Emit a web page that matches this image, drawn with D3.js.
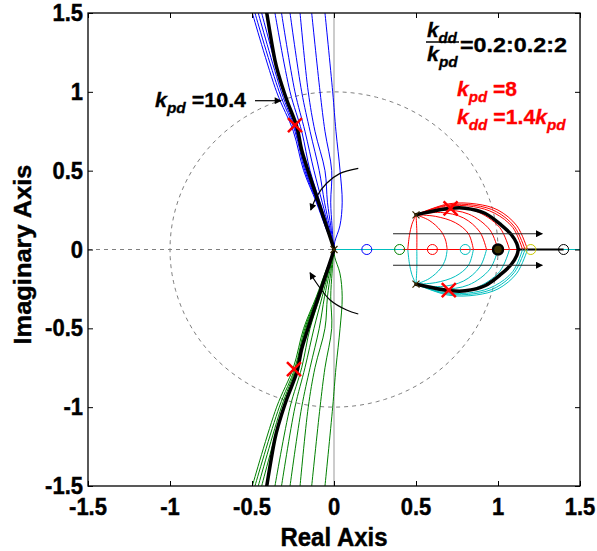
<!DOCTYPE html>
<html><head><meta charset="utf-8">
<script src="https://cdn.jsdelivr.net/npm/d3@7"></script>
<style>body{margin:0;background:#fff}svg{display:block}text{font-family:"Liberation Sans",Arial,sans-serif;font-weight:bold}</style>
</head><body><svg id="c" width="597" height="551"></svg>
<script>
// ---------- data ----------
const xTicks=[-1.5,-1,-0.5,0,0.5,1,1.5];
const xTickLabels=["-1.5","-1","-0.5","0","0.5","1","1.5"];
const yTicks=[-1.5,-1,-0.5,0,0.5,1,1.5];
const yTickLabels=["-1.5","-1","-0.5","0","0.5","1","1.5"];

// upper (blue) branch family from the double pole at origin; lower (green) = conjugate
const branchY=[0,0.05,0.15,0.3,0.5,0.75,1.0,1.5];
const blueBranchX=[
 [0,-0.016,-0.055,-0.108,-0.185,-0.248,-0.350,-0.498],
 [0,-0.016,-0.053,-0.104,-0.178,-0.238,-0.334,-0.482],
 [0,-0.015,-0.051,-0.100,-0.172,-0.232,-0.321,-0.462],
 [0,-0.015,-0.049,-0.097,-0.166,-0.226,-0.309,-0.441],
 [0,-0.013,-0.040,-0.085,-0.146,-0.197,-0.268,-0.360],
 [0,-0.012,-0.035,-0.072,-0.122,-0.177,-0.238,-0.320],
 [0,-0.010,-0.028,-0.058,-0.090,-0.146,-0.197,-0.268],
 [0,-0.008,-0.020,-0.040,-0.055,-0.116,-0.157,-0.207],
 [0,-0.005,-0.012,-0.020,-0.014,-0.055,-0.085,-0.136],
 [0, 0.005, 0.036, 0.050, 0.037, 0.012,-0.008,-0.055]
];
// highlighted branch (kdd = 1.4 kpd)
const blackBranchY=[0,0.029,0.145,0.271,0.398,0.525,0.631,0.779,0.948,1.117,1.2,1.5];
const blackBranchX=[0,-0.008,-0.045,-0.085,-0.126,-0.166,-0.197,-0.227,-0.288,-0.340,-0.36,-0.41];

// branches from the complex poles (0.5 ± 0.22j): upper red, lower cyan (conjugate)
const bulbCurves=[
 [[0.5,0.22],[0.475,0.16],[0.46,0.09],[0.45,0]],
 [[0.5,0.22],[0.505,0.12],[0.505,0]],
 [[0.5,0.22],[0.58,0.185],[0.65,0.12],[0.68,0.06],[0.69,0]],
 [[0.5,0.22],[0.62,0.21],[0.74,0.17],[0.82,0.1],[0.85,0]],
 [[0.5,0.22],[0.65,0.235],[0.79,0.2],[0.89,0.11],[0.93,0]],
 [[0.5,0.22],[0.66,0.25],[0.82,0.225],[0.95,0.125],[1.0,0]],
 [[0.5,0.22],[0.68,0.265],[0.86,0.245],[1.01,0.14],[1.07,0]],
 [[0.5,0.22],[0.68,0.275],[0.85,0.272],[0.98,0.23],[1.09,0.14],[1.15,0]],
 [[0.5,0.22],[0.69,0.282],[0.86,0.28],[0.99,0.24],[1.10,0.145],[1.165,0]],
 [[0.5,0.22],[0.70,0.29],[0.87,0.288],[1.00,0.25],[1.115,0.15],[1.18,0]]
];
const blackBulb=[[0.5,0.22],[0.71,0.261],[0.80,0.262],[0.92,0.23],[1.02,0.155],[1.083,0.092],[1.114,0.039],[1.124,0]];

// real-axis segments [x0,x1,colour,width]
const axisSegments=[[0,1.5,"#00bfbf",1],[0.42,1.12,"#ff0000",1],[1.12,1.4,"#000",2]];

// zeros (circles) and their colours
const zeroX=[0.2,0.4,0.6,0.8,1.0,1.2,1.4];
const zeroColor=["#0000ff","#008000","#ff0000","#00bfbf","#000","#c8c800","#000"];

// open-loop poles (small black x)
const poles=[[0,0],[0.5,0.22],[0.5,-0.22]];
// selected closed-loop poles (red X)
const selected=[[-0.238,0.789],[-0.244,-0.758],[0.711,0.261],[0.70,-0.257]];

// annotation arrows (data coordinates)
const hArrows=[[[0.36,0.1],[1.27,0.1]],[[0.36,-0.1],[1.27,-0.1]]];
const curvedArrows=[
 [[0.148,0.515],[0.037,0.483],[-0.045,0.42],[-0.106,0.335],[-0.142,0.25]],
 [[0.148,-0.409],[0.077,-0.384],[-0.024,-0.32],[-0.106,-0.214],[-0.146,-0.147]]
];

// ---------- drawing ----------
const svg=d3.select("#c");
const L=88,R=580,T=13,B=486;
const x=d3.scaleLinear().domain([-1.5,1.5]).range([L,R]);
const y=d3.scaleLinear().domain([-1.5,1.5]).range([B,T]);

const defs=svg.append("defs");
defs.append("clipPath").attr("id","clip").append("rect").attr("x",L).attr("y",T).attr("width",R-L).attr("height",B-T);
defs.append("marker").attr("id","ah").attr("viewBox","0 0 10 10").attr("refX",9).attr("refY",5)
 .attr("markerWidth",9).attr("markerHeight",7).attr("markerUnits","userSpaceOnUse").attr("orient","auto")
 .append("path").attr("d","M0,0L10,5L0,10z").attr("fill","#000");

const plot=svg.append("g").attr("clip-path","url(#clip)");
const line=d3.line().x(d=>x(d[0])).y(d=>y(d[1])).curve(d3.curveCatmullRom.alpha(0.5));
const lin=d3.line().x(d=>x(d[0])).y(d=>y(d[1]));

// unit circle and dashed axes
const circ=d3.range(0,361,3).map(a=>[Math.cos(a*Math.PI/180),Math.sin(a*Math.PI/180)]);
plot.append("path").attr("d",lin(circ)).attr("fill","none").attr("stroke","#808080").attr("stroke-dasharray","4,4");
plot.append("path").attr("d",lin([[-1.5,0],[0,0]])).attr("stroke","#808080").attr("stroke-dasharray","4,4");
plot.append("path").attr("d",lin([[0,-1.5],[0,1.5]])).attr("stroke","#999").attr("stroke-width",1);

// real axis segments
axisSegments.forEach(s=>plot.append("path").attr("d",lin([[s[0],0],[s[1],0]])).attr("stroke",s[2]).attr("stroke-width",s[3]));

// blue / green branches
blueBranchX.forEach(xs=>{
  const up=xs.map((v,i)=>[v,branchY[i]]);
  plot.append("path").attr("d",line(up)).attr("fill","none").attr("stroke","#0000ff").attr("stroke-width",1);
  plot.append("path").attr("d",line(up.map(p=>[p[0],-p[1]]))).attr("fill","none").attr("stroke","#008000").attr("stroke-width",1);
});
// red / cyan
bulbCurves.forEach(c=>{
  plot.append("path").attr("d",line(c)).attr("fill","none").attr("stroke","#ff0000").attr("stroke-width",1);
  plot.append("path").attr("d",line(c.map(p=>[p[0],-p[1]]))).attr("fill","none").attr("stroke","#00bfbf").attr("stroke-width",1);
});
// black thick
const bb=blackBranchX.map((v,i)=>[v,blackBranchY[i]]);
[bb,bb.map(p=>[p[0],-p[1]]),blackBulb,blackBulb.map(p=>[p[0],-p[1]])].forEach(c=>
  plot.append("path").attr("d",line(c)).attr("fill","none").attr("stroke","#000").attr("stroke-width",3.5).attr("stroke-linecap","round"));

// zeros
zeroX.forEach((z,i)=>{
  plot.append("circle").attr("cx",x(z)).attr("cy",y(0)).attr("r",5)
    .attr("fill",i===4?"#3a3000":"none").attr("stroke",zeroColor[i]).attr("stroke-width",i===4?2.5:1);
});
// poles
poles.forEach(p=>{
  const cx=x(p[0]),cy=y(p[1]),s=3.5;
  plot.append("path").attr("d",`M${cx-s},${cy-s}L${cx+s},${cy+s}M${cx-s},${cy+s}L${cx+s},${cy-s}`).attr("stroke","#3a2a00").attr("stroke-width",1.2);
});
// selected poles
selected.forEach(p=>{
  const cx=x(p[0]),cy=y(p[1]),s=7;
  plot.append("path").attr("d",`M${cx-s},${cy-s}L${cx+s},${cy+s}M${cx-s},${cy+s}L${cx+s},${cy-s}`).attr("stroke","#ff0000").attr("stroke-width",2.5);
});
// arrows
hArrows.forEach(a=>svg.append("path").attr("d",lin(a)).attr("stroke","#222").attr("stroke-width",1.2).attr("marker-end","url(#ah)"));
const smooth=d3.line().x(d=>x(d[0])).y(d=>y(d[1])).curve(d3.curveCatmullRom);
curvedArrows.forEach(a=>svg.append("path").attr("d",smooth(a)).attr("fill","none").attr("stroke","#000").attr("stroke-width",1.2).attr("marker-end","url(#ah)"));

// ---------- axes ----------
svg.append("rect").attr("x",L).attr("y",T).attr("width",R-L).attr("height",B-T).attr("fill","none").attr("stroke","#000").attr("stroke-width",1.3);
const tk=5;
const axB=svg.append("g").attr("transform",`translate(0,${B})`).call(d3.axisBottom(x).tickValues(xTicks).tickSizeInner(-tk).tickSizeOuter(0).tickFormat(""));
const axT=svg.append("g").attr("transform",`translate(0,${T})`).call(d3.axisTop(x).tickValues(xTicks).tickSizeInner(-tk).tickSizeOuter(0).tickFormat(""));
const axL=svg.append("g").attr("transform",`translate(${L},0)`).call(d3.axisLeft(y).tickValues(yTicks).tickSizeInner(-tk).tickSizeOuter(0).tickFormat(""));
const axR=svg.append("g").attr("transform",`translate(${R},0)`).call(d3.axisRight(y).tickValues(yTicks).tickSizeInner(-tk).tickSizeOuter(0).tickFormat(""));
[axB,axT,axL,axR].forEach(a=>{a.select(".domain").remove();a.selectAll("line").attr("stroke","#000");});

// tick labels (slightly tall glyphs, as in the reference)
const TF=22, SY=1.1;
xTicks.forEach((v,i)=>{
  svg.append("g").attr("transform",`translate(${x(v)},515) scale(1,${SY})`)
   .append("text").attr("text-anchor","middle").attr("font-size",TF).attr("stroke","#000").attr("stroke-width",0.4).text(xTickLabels[i]);
});
yTicks.forEach((v,i)=>{
  svg.append("g").attr("transform",`translate(83,${y(v)+8}) scale(1,${SY})`)
   .append("text").attr("text-anchor","end").attr("font-size",TF).attr("stroke","#000").attr("stroke-width",0.4).text(yTickLabels[i]);
});

svg.append("g").attr("transform",`translate(${(L+R)/2},546) scale(1,1.08)`).append("text").attr("text-anchor","middle").attr("font-size",24).attr("stroke","#000").attr("stroke-width",0.4).text("Real Axis");
svg.append("g").attr("transform",`translate(31,${(T+B)/2+5}) rotate(-90) scale(1.06,1)`).append("text").attr("text-anchor","middle").attr("font-size",24).attr("stroke","#000").attr("stroke-width",0.4).text("Imaginary Axis");

// ---------- annotations ----------
function rich(parts,tx,by,tw,fs,color){
  const g=svg.append("g");
  const t=g.append("text").attr("font-size",fs).attr("fill",color).attr("stroke",color).attr("stroke-width",0.3);
  let shifted=false;
  parts.forEach(p=>{
    const s=t.append("tspan").text(p.t);
    if(p.i) s.attr("font-style","italic");
    if(p.sub){s.attr("font-size",fs*0.72); if(!shifted){s.attr("dy",fs*0.28);shifted=true;}}
    else if(shifted){s.attr("dy",-fs*0.28);shifted=false;}
  });
  const bx=t.node().getBBox();
  const sx=tw/bx.width;
  g.attr("transform",`translate(${tx-bx.x*sx},${by}) scale(${sx},1)`);
  return g;
}
rich([{t:"k",i:1},{t:"pd",i:1,sub:1},{t:" =10.4"}],155,107,92,20,"#000");
rich([{t:"k",i:1},{t:"dd",i:1,sub:1}],427,37,31,20,"#000");
svg.append("line").attr("x1",426).attr("x2",459).attr("y1",42).attr("y2",42).attr("stroke","#000").attr("stroke-width",1.6);
rich([{t:"k",i:1},{t:"pd",i:1,sub:1}],427,61,32,20,"#000");
rich([{t:"=0.2:0.2:2"}],460,52,107,20,"#000");
rich([{t:"k",i:1},{t:"pd",i:1,sub:1},{t:" =8"}],457,96,60,20,"#ff0000");
rich([{t:"k",i:1},{t:"dd",i:1,sub:1},{t:" =1.4"},{t:"k",i:1},{t:"pd",i:1,sub:1}],457,124,110,20,"#ff0000");
// arrow for kpd label
svg.append("path").attr("d","M"+255+","+100.7+"L"+281+","+100.7).attr("stroke","#000").attr("stroke-width",1.2).attr("marker-end","url(#ah)");
</script></body></html>
